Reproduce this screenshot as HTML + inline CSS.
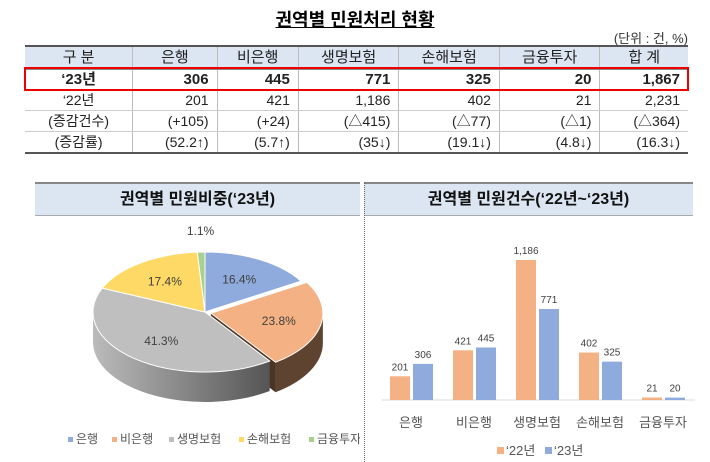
<!DOCTYPE html>
<html><head><meta charset="utf-8"><style>
body{margin:0;width:710px;height:462px;background:#fff;font-family:"Liberation Sans","Noto Sans CJK KR",sans-serif;position:relative;overflow:hidden}
.t{position:absolute;}
table{position:absolute;left:25px;top:45px;width:663px;border-collapse:collapse;font-size:14px;color:#222}
td{height:20px;padding:0 8px;text-align:right;border-left:1px solid #bbb;line-height:20px}
td:first-child{border-left:none;text-align:center}
tr.h td{background:#dce6f2;text-align:center;font-size:15px;border-top:2px solid #555;border-bottom:1px solid #888;height:22px}
tr.b td{font-weight:bold;font-size:15px}
tr:last-child td{border-bottom:2px solid #555}
tr.r td{border-bottom:1px solid #ccc}
.band{position:absolute;background:#dce6f2;border-top:2px solid #888;border-bottom:1px solid #aaa;height:31px;text-align:center;font-weight:bold;font-size:16px;line-height:31px;color:#111}
</style></head><body>
<div class="t" style="left:0;width:710px;top:6px;text-align:center;font-weight:bold;font-size:18px;text-decoration:underline">권역별 민원처리 현황</div>
<div class="t" style="right:22px;top:28px;font-size:13px;color:#333">(단위 : 건, %)</div>
<table>
<tr class="h"><td>구 분</td><td>은행</td><td>비은행</td><td>생명보험</td><td>손해보험</td><td>금융투자</td><td>합 계</td></tr>
<tr class="b"><td>‘23년</td><td>306</td><td>445</td><td>771</td><td>325</td><td>20</td><td>1,867</td></tr>
<tr class="r"><td>‘22년</td><td>201</td><td>421</td><td>1,186</td><td>402</td><td>21</td><td>2,231</td></tr>
<tr class="r"><td>(증감건수)</td><td>(+105)</td><td>(+24)</td><td>(△415)</td><td>(△77)</td><td>(△1)</td><td>(△364)</td></tr>
<tr><td>(증감률)</td><td>(52.2↑)</td><td>(5.7↑)</td><td>(35↓)</td><td>(19.1↓)</td><td>(4.8↓)</td><td>(16.3↓)</td></tr>
</table>
<div style="position:absolute;left:24px;top:67px;width:661px;height:20px;border:2px solid #e00"></div>
<div class="band" style="left:35px;top:182px;width:325px">권역별 민원비중(‘23년)</div>
<div class="band" style="left:364px;top:182px;width:329px">권역별 민원건수(‘22년~‘23년)</div>
<div style="position:absolute;left:364px;top:182px;height:280px;border-left:1px dotted #666"></div>
<svg id="pie" width="360" height="462" style="position:absolute;left:0;top:0">
<defs><linearGradient id="gg" x1="0" x2="1"><stop offset="0" stop-color="#bbb"/><stop offset="1" stop-color="#555"/></linearGradient></defs>
</svg>
<svg id="bar" width="350" height="462" style="position:absolute;left:360px;top:0"></svg>
<script>
const pieCats=['은행','비은행','생명보험','손해보험','금융투자'];
const pieVals=[16.4,23.8,41.3,17.4,1.1];
const barCats=['은행','비은행','생명보험','손해보험','금융투자'];
const s22=[201,421,1186,402,21];
const s23=[306,445,771,325,20];
const pieCol=['#8faadc','#f4b183','#bfbfbf','#ffd966','#a9d18e'];
const sideCol=['#6a83b0','#5f4331','url(#gg)','#b89a3a','#6f9a55'];
const NS='http://www.w3.org/2000/svg';
function mk(p,tag,at){const e=document.createElementNS(NS,tag);for(const k in at)e.setAttribute(k,at[k]);p.appendChild(e);return e;}
const pie=document.getElementById('pie');
const cx=205,cy=312,rx=112,ry=60,dep=30;
const tot=pieVals.reduce((a,b)=>a+b,0);
let cum=0;const sl=[];
pieVals.forEach((v,i)=>{const a0=-Math.PI/2+cum/tot*2*Math.PI;cum+=v;const a1=-Math.PI/2+cum/tot*2*Math.PI;
const m=(a0+a1)/2;const off=i==1?6:0;sl.push({a0,a1,dx:off*Math.cos(m),dy:off*Math.sin(m)});});
const P=(t,dx,dy,d)=>[cx+dx+rx*Math.cos(t),cy+dy+ry*Math.sin(t)+(d||0)];
// sides
sl.forEach((s,i)=>{let t0=Math.max(s.a0,0),t1=Math.min(s.a1,Math.PI);
if(t1<=t0)return;const a=P(t0,s.dx,s.dy),b=P(t1,s.dx,s.dy);
const d=`M${a} A${rx},${ry} 0 0 1 ${b} L${P(t1,s.dx,s.dy,dep)} A${rx},${ry} 0 0 0 ${P(t0,s.dx,s.dy,dep)} Z`;
const e=mk(pie,'path',{d,fill:sideCol[i]});

if(i==1){const c=mk(pie,'path',{d:`M${cx+s.dx},${cy+s.dy} L${P(s.a1,s.dx,s.dy)} L${P(s.a1,s.dx,s.dy,dep)} L${cx+s.dx},${cy+s.dy+dep}Z`,fill:'#4a3426'});
}
});
sl.forEach((s,i)=>{const a=P(s.a0,s.dx,s.dy),b=P(s.a1,s.dx,s.dy);const lg=(s.a1-s.a0)>Math.PI?1:0;
const e=mk(pie,'path',{d:`M${cx+s.dx},${cy+s.dy} L${a} A${rx},${ry} 0 ${lg} 1 ${b} Z`,fill:pieCol[i],stroke:'#fff','stroke-width':1});

const m=(s.a0+s.a1)/2;const r=i==4?1.15:0.62;
const tx=mk(pie,'text',{x:cx+s.dx+rx*r*Math.cos(m),y:cy+s.dy+ry*r*Math.sin(m)+(i==4?-8:4),'font-size':12,'text-anchor':'middle',fill:'#404040'});
tx.textContent=pieVals[i].toFixed(1)+'%';

});
let lx=68;
pieCats.forEach((c,i)=>{const r=mk(pie,'rect',{x:lx,y:437,width:5,height:5,fill:pieCol[i]});

const t=mk(pie,'text',{x:lx+8,y:443,'font-size':12,fill:'#555'});t.textContent=c;

lx+=8+c.length*13+10;});
// bars
const bar=document.getElementById('bar');
const base=400,maxV=1186,H=140;const y=v=>base-v/maxV*H;
const gx=i=>30+i*63;
mk(bar,'line',{x1:22,x2:335,y1:base,y2:base,stroke:'#d9d9d9'});
barCats.forEach((c,i)=>{[[s22,'#f4b183',0],[s23,'#8faadc',23]].forEach(([arr,col,o])=>{
const r=mk(bar,'rect',{x:gx(i)+o,y:y(arr[i]),width:20,height:base-y(arr[i]),fill:col});

const t=mk(bar,'text',{x:gx(i)+o+10,y:y(arr[i])-6,'font-size':10,'text-anchor':'middle',fill:'#404040'});
t.textContent=arr[i].toLocaleString('en-US');});
const t=mk(bar,'text',{x:gx(i)+21,y:427,'font-size':13,'text-anchor':'middle',fill:'#555'});t.textContent=c;
});
[['‘22년','#f4b183',137],['‘23년','#8faadc',185]].forEach(([n,c,x])=>{
const r=mk(bar,'rect',{x,y:447,width:7,height:7,fill:c});
const t=mk(bar,'text',{x:x+9,y:455,'font-size':13,fill:'#555'});t.textContent=n;});
</script>
</body></html>
